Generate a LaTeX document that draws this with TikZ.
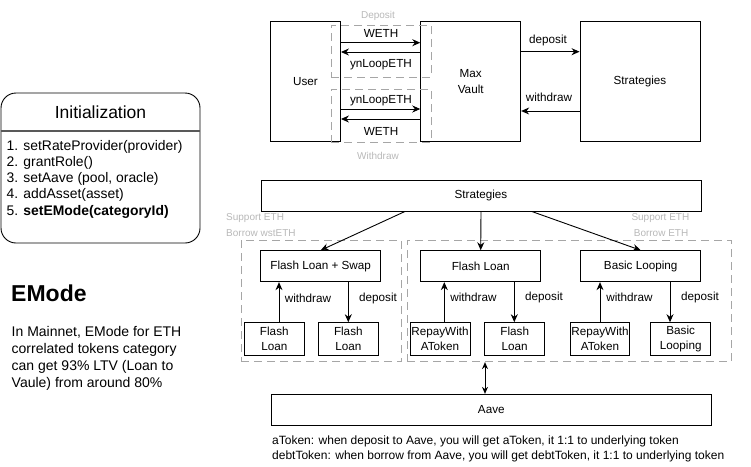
\documentclass[tikz,border=0pt]{standalone}
\usepackage{fontspec}
\setmainfont{Liberation Sans}
\usetikzlibrary{arrows.meta}
\definecolor{lightgr}{HTML}{B8B8B8}
\definecolor{dashgr}{HTML}{A6A6A6}
\tikzset{
  box/.style={draw=black, line width=0.9pt, inner sep=0pt, align=center, font=\fontsize{11.7}{15.5}\selectfont},
  grp/.style={draw=dashgr, line width=0.8pt, dash pattern=on 8pt off 5pt, inner sep=0pt},
  arr/.style={-{Stealth[length=8pt,width=7pt]}, line width=0.9pt},
  darr/.style={{Stealth[length=7pt,width=6pt]}-{Stealth[length=7pt,width=6pt]}, line width=0.9pt},
  lbl/.style={font=\fontsize{11.7}{14}\selectfont, inner sep=0pt},
  glbl/.style={font=\fontsize{10}{12}\selectfont, text=lightgr, inner sep=0pt},
}
\begin{document}
\begin{tikzpicture}[x=1pt,y=-1pt]
\useasboundingbox (0,0) rectangle (751,466);

% top row
\node[box, minimum width=70pt, minimum height=120pt] (user) at (305.5,81.5) {User};
\node[box, minimum width=100pt, minimum height=120pt] (vault) at (470.7,81.5) {Max\\Vault};
\node[box, minimum width=120pt, minimum height=120pt] (strat1) at (640,81.5) {Strategies};

\node[grp, minimum width=100pt, minimum height=52pt] (dep) at (381,51) {};
\node[grp, minimum width=100pt, minimum height=53pt] (wd) at (381,115.5) {};
\node[glbl] (deplbl) at (378,15.5) {Deposit};
\node[glbl] (wdlbl) at (378,155.5) {Withdraw};

\draw[arr] ([yshift=38.8pt]user.east) -- ([yshift=38.8pt]vault.west);
\draw[arr] ([yshift=29.5pt]vault.west) -- ([yshift=29.5pt]user.east);
\draw[arr] ([yshift=-27.5pt]user.east) -- ([yshift=-27.5pt]vault.west);
\draw[arr] ([yshift=-37.5pt]vault.west) -- ([yshift=-37.5pt]user.east);
\node[lbl] (l1) at (381,33.5) {WETH};
\node[lbl] (l2) at (381,64.5) {ynLoopETH};
\node[lbl] (l3) at (381,101) {ynLoopETH};
\node[lbl] (l4) at (381,131.5) {WETH};

\draw[arr] ([yshift=29.8pt]vault.east) -- ([yshift=29.8pt]strat1.west);
\draw[arr] ([yshift=-29.5pt]strat1.west) -- ([yshift=-29.5pt]vault.east);
\node[lbl] (l5) at (548,40) {deposit};
\node[lbl] (l6) at (549,97.5) {withdraw};

% initialization
\node[draw=black, line width=0.9pt, rounded corners=15pt, minimum width=199pt, minimum height=150pt, inner sep=0pt] (init) at (100.5,168) {};
\draw[draw=black!65, line width=1.2pt] ([yshift=37pt]init.west) -- ([yshift=37pt]init.east);
\node[font=\fontsize{17.5}{20}\selectfont, inner sep=0pt] (inittitle) at (100.5,112) {Initialization};
\node[font=\fontsize{13.9}{16.25}\selectfont, align=left, anchor=base west, inner sep=0pt] (items) at (6.5,215) {1. setRateProvider(provider)\\2. grantRole()\\3. setAave (pool, oracle)\\4. addAsset(asset)\\5. \textbf{setEMode(categoryId)}};

% EMode
\node[font=\fontsize{23}{26}\selectfont\bfseries, anchor=base west, inner sep=0pt] (emode) at (11,301.7) {EMode};
\node[font=\fontsize{14}{17.3}\selectfont, align=left, anchor=base west, inner sep=0pt] (emtext) at (11.5,387.9) {In Mainnet, EMode for ETH\\correlated tokens category\\can get 93\% LTV (Loan to\\Vaule) from around 80\%};

% strategies
\node[box, minimum width=440pt, minimum height=31pt] (strat2) at (481,195.5) {Strategies};

\node[grp, minimum width=160pt, minimum height=121.7pt] (lgrp) at (321,300.85) {};
\node[grp, minimum width=324pt, minimum height=121.7pt] (rgrp) at (569,300.85) {};
\node[glbl, anchor=west] (s1) at (226,218.5) {Support ETH};
\node[glbl, anchor=west] (s2) at (226,233.5) {Borrow wstETH};
\node[glbl, anchor=east] (s3) at (689.5,218.5) {Support ETH};
\node[glbl, anchor=east] (s4) at (688.5,233.5) {Borrow ETH};

\node[box, minimum width=120pt, minimum height=31pt] (fls) at (320.7,266.2) {Flash Loan + Swap};
\node[box, minimum width=120pt, minimum height=31pt] (fl) at (480.7,266.2) {Flash Loan};
\node[box, minimum width=120pt, minimum height=31pt] (bl) at (640.7,266.2) {Basic Looping};

\node[box, minimum width=60pt, minimum height=32.3pt] (fl1) at (274.3,338.8) {Flash\\Loan};
\node[box, minimum width=60pt, minimum height=32.3pt] (fl2) at (348.3,338.8) {Flash\\Loan};
\node[box, minimum width=60pt, minimum height=32.3pt] (rw1) at (440,338.8) {RepayWith\\AToken};
\node[box, minimum width=60pt, minimum height=32.3pt] (fl3) at (514.7,338.8) {Flash\\Loan};
\node[box, minimum width=59pt, minimum height=32.3pt] (rw2) at (600,338.8) {RepayWith\\AToken};
\node[box, minimum width=60pt, minimum height=32.3pt] (bl2) at (680.7,338.8) {Basic\\Looping};

\draw[arr] ([xshift=-76pt]strat2.south) -- (fls.north);
\draw[arr] (strat2.south) -- (fl.north);
\draw[arr] ([xshift=50.7pt]strat2.south) -- (bl.north);

\draw[arr] ([xshift=4.7pt]fl1.north) -- ([xshift=4.7pt]fl1.north |- fls.south);
\draw[arr] (fl2.north |- fls.south) -- (fl2.north);
\draw[arr] ([xshift=4.3pt]rw1.north) -- ([xshift=4.3pt]rw1.north |- fl.south);
\draw[arr] ([xshift=-0.4pt]fl3.north |- fl.south) -- ([xshift=-0.4pt]fl3.north);
\draw[arr] (rw2.north) -- (rw2.north |- bl.south);
\draw[arr] ([xshift=-10.7pt]bl2.north |- bl.south) -- ([xshift=-10.7pt]bl2.north);

\node[lbl] (w1) at (308,298) {withdraw};
\node[lbl] (d1) at (378,298) {deposit};
\node[lbl] (w2) at (473.5,297.5) {withdraw};
\node[lbl] (d2) at (544,297.5) {deposit};
\node[lbl] (w3) at (629.5,297) {withdraw};
\node[lbl] (d3) at (700,297) {deposit};

% aave
\node[box, minimum width=440.7pt, minimum height=31.4pt] (aave) at (491.3,410) {Aave};
\draw[darr] ([xshift=-6.3pt]aave.north |- rgrp.south) -- ([xshift=-6.3pt]aave.north);

\node[font=\fontsize{12}{15}\selectfont, align=left, anchor=base west, inner sep=0pt] (notes) at (272,459.3) {aToken: when deposit to Aave, you will get aToken, it 1:1 to underlying token\\debtToken: when borrow from Aave, you will get debtToken, it 1:1 to underlying token};
\end{tikzpicture}
\end{document}
